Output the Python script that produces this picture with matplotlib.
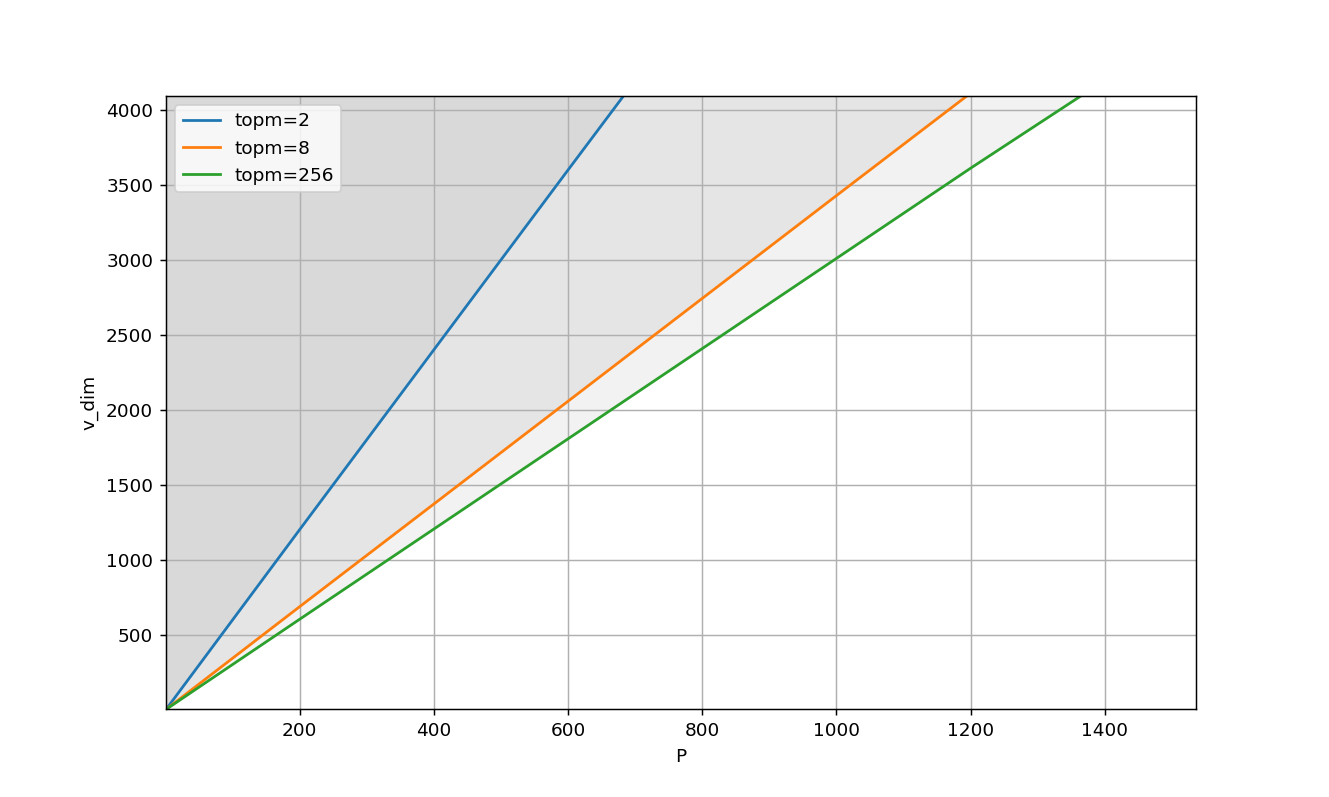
import numpy as np
from matplotlib import pyplot as plt

# values
labels = ["topm=2", "topm=8", "topm=256"]
p_vals = [
    [1, 200, 400, 600, 683],
    [1, 200, 400, 600, 800, 1000, 1195],
    [1, 200, 400, 600, 800, 1000, 1200, 1365],
]
v_vals = [
    [1, 1200, 2400, 3600, 4096],
    [1, 686, 1371, 2057, 2743, 3429, 4096],
    [1, 602, 1204, 1806, 2408, 3010, 3612, 4096],
]
x_max = 1536
y_max = 4096

fig, ax = plt.subplots(figsize=(1329 / 133, 797 / 133), dpi=133)
for label, p, v in zip(labels, p_vals, v_vals):
    ax.plot(p, v, label=label)
    ax.fill_between(p, v, y_max, color="k", alpha=0.05, linewidth=0)

ax.set_xlim(1, x_max)
ax.set_ylim(1, y_max)
ax.set_xticks([200, 400, 600, 800, 1000, 1200, 1400])
ax.set_yticks([500, 1000, 1500, 2000, 2500, 3000, 3500, 4000])
ax.set_xlabel("P")
ax.set_ylabel("v_dim")
ax.grid(True)
ax.legend(loc="upper left")
plt.savefig("out.png", dpi=133)
